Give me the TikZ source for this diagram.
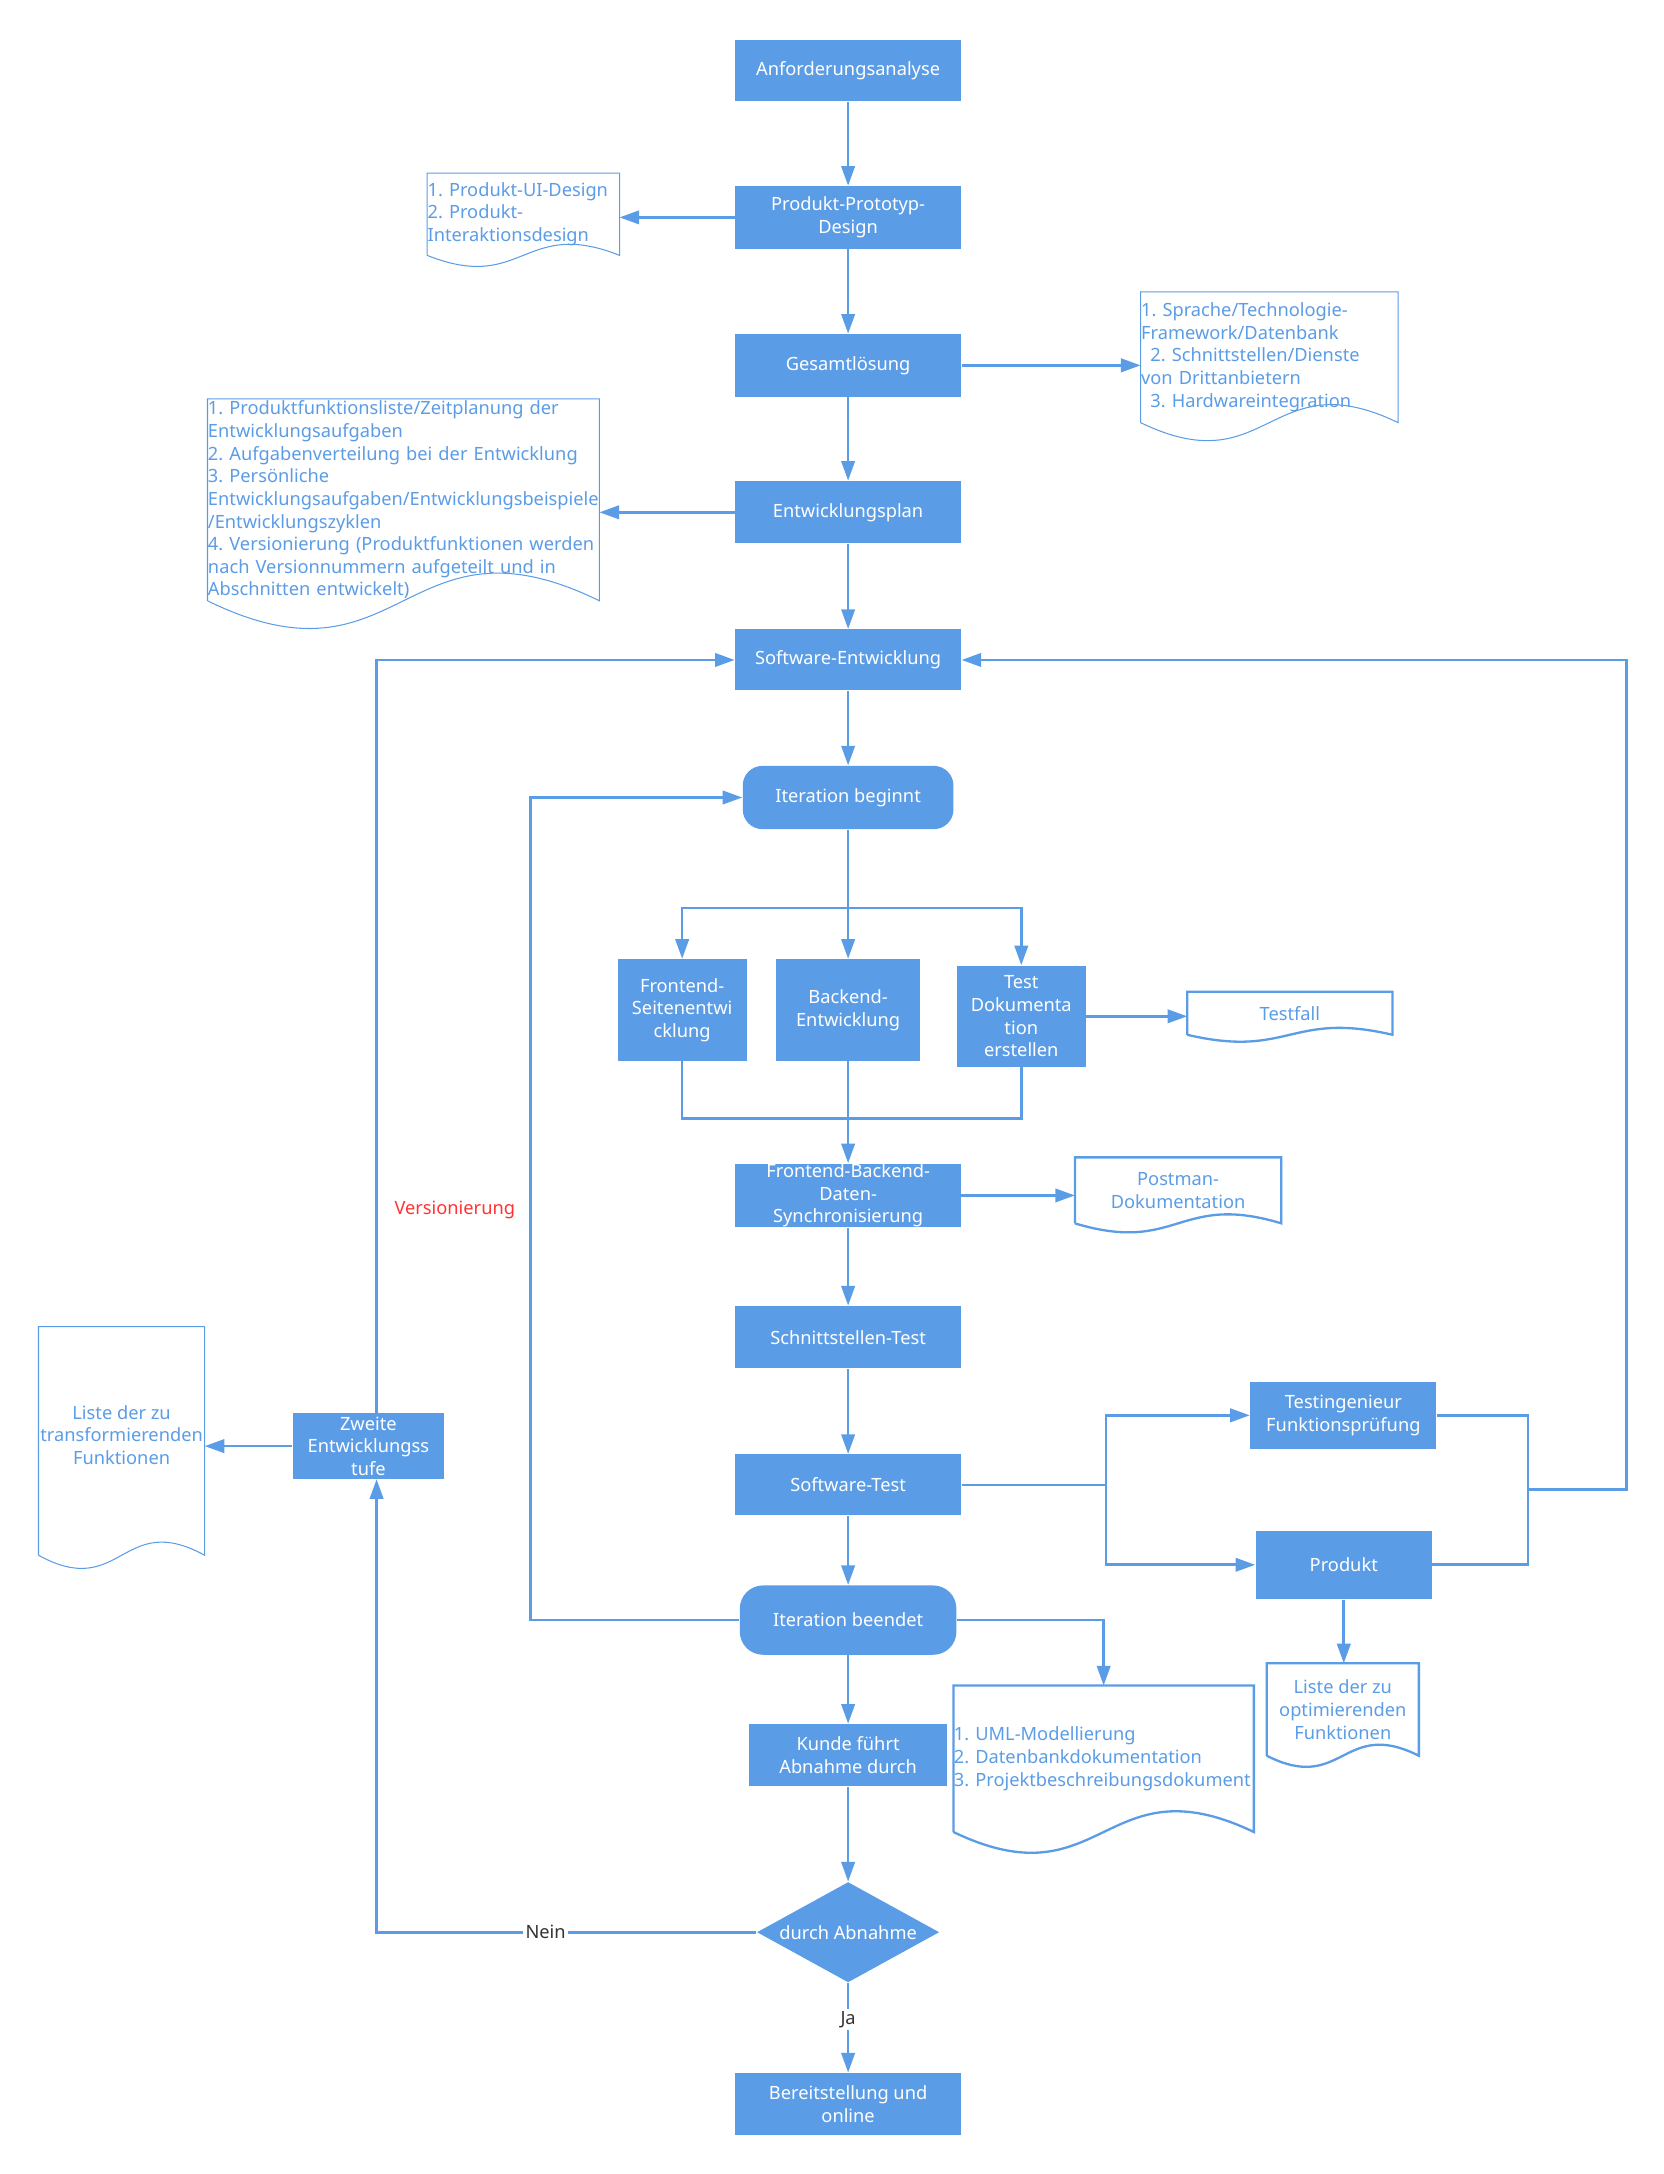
\documentclass[tikz,border=0pt]{standalone}
\usepackage{fontspec}
\setmainfont{Noto Sans}
\frenchspacing
\usetikzlibrary{arrows.meta,shapes.geometric,calc}
\definecolor{fc}{HTML}{5B9CE6}
\definecolor{tc}{HTML}{5B9CE6}
\definecolor{rc}{HTML}{FF3333}
\definecolor{lc}{HTML}{333333}
\newcommand\docout[3]{%
  \draw[#3] (#1.south west) -- (#1.north west) -- (#1.north east) -- (#1.south east)
    .. controls ($(#1.south)+(0,-#2*3.46)$) and ($(#1.south)+(0,#2*3.46)$) .. (#1.south west);}
\newcommand\mb[1]{\mbox{#1}}
\tikzset{
  every node/.style={font=\fontsize{7.9pt}{9.8pt}\selectfont},
  box/.style={rectangle, fill=fc, text=white, align=center, inner sep=0pt},
  term/.style={box, rounded corners=8.5pt},
  dec/.style={diamond, aspect=1.8, fill=fc, text=white, inner sep=0pt, align=center},
  sz/.style 2 args={minimum width=#1*0.6pt, minimum height=#2*0.6pt},
  doc/.style={rectangle, inner sep=0pt, text=tc},
  conn/.style={draw=fc, line width=1.15pt, -{Triangle[length=8.5pt,width=5.8pt]}},
  line/.style={draw=fc, line width=1.15pt},
  thindoc/.style={draw=fc, line width=0.45pt},
  thickdoc/.style={draw=fc, line width=1pt},
  lbl/.style={fill=white, text=lc, inner sep=1pt},
}
\begin{document}
\begin{tikzpicture}[x=0.6pt, y=-0.6pt]
\useasboundingbox (0,0) rectangle (1200,1568);

% main column
\node[box, sz={163}{44}] (A) at (611.7,51) {Anforderungsanalyse};
\node[box, sz={163}{45}] (B) at (611.7,156.8) {Produkt-Prototyp-\\Design};
\node[box, sz={163}{45}] (C) at (611.7,263.5) {Gesamtlösung};
\node[box, sz={163}{45}] (D) at (611.7,369.5) {Entwicklungsplan};
\node[box, sz={163}{44}] (E) at (611.7,476) {Software-Entwicklung};
\node[term, sz={152}{45.6}] (F) at (611.7,575.2) {Iteration beginnt};
\node[box, sz={93}{73.3}] (G1) at (492,728.5) {Frontend-\\Seitenentwi\\cklung};
\node[box, sz={103.8}{73.3}] (G2) at (611.7,728.5) {Backend-\\Entwicklung};
\node[box, sz={92.8}{73}] (G3) at (736.6,733) {Test\\Dokumenta\\tion\\erstellen};
\node[box, sz={162.6}{45}] (H) at (611.7,862.2) {Frontend-Backend-\\Daten-\\Synchronisierung};
\node[box, sz={163}{45}] (S) at (611.7,964.5) {Schnittstellen-Test};
\node[box, sz={163}{44}] (T) at (611.7,1071) {Software-Test};
\node[box, sz={134.3}{48.8}] (TI) at (968.9,1020.8) {Testingenieur\\Funktionsprüfung};
\node[box, sz={127.1}{49.4}] (P) at (969.2,1128.6) {Produkt};
\node[term, rounded corners=10pt, sz={156.2}{50}] (IE) at (611.7,1168.5) {Iteration beendet};
\node[box, sz={142.3}{44.9}] (K) at (611.7,1266) {Kunde führt\\Abnahme durch};
\node[dec, sz={131.5}{72.4}] (DA) at (611.7,1393.6) {durch Abnahme};
\node[box, sz={162.8}{44.9}] (BO) at (611.7,1517.6) {Bereitstellung und\\online};
\node[box, sz={109.4}{47.1}] (Z) at (265.7,1043) {Zweite\\Entwicklungss\\tufe};

% documents
\node[doc, sz={138.1}{58.7}, text width=82.86pt, align=left] (d1) at (377.45,154.5)
  {1. Produkt-UI-Design\\2. Produkt-\\Interaktionsdesign};
\node[doc, sz={185}{93.7}, text width=111pt, align=left] (d2) at (915.5,257.65)
  {\mb{1. Sprache/Technologie-}\\\mb{Framework/Datenbank}\\\mb{\hspace*{4pt}2. Schnittstellen/Dienste}\\\mb{von Drittanbietern}\\\mb{\hspace*{4pt}3. Hardwareintegration}};
\node[doc, sz={282}{145}, text width=169.2pt, align=left] (d3) at (291,360.5)
  {\mb{1. Produktfunktionsliste/Zeitplanung der}\\\mb{Entwicklungsaufgaben}\\\mb{2. Aufgabenverteilung bei der Entwicklung}\\\mb{3. Persönliche}\\\mb{Entwicklungsaufgaben/Entwicklungsbeispiele}\\\mb{/Entwicklungszyklen}\\\mb{4. Versionierung (Produktfunktionen werden}\\\mb{nach Versionnummern aufgeteilt und in}\\\mb{Abschnitten entwickelt)}};
\node[doc, sz={147.4}{30.4}, align=center] (d4) at (930.3,730.8) {Testfall};
\node[doc, sz={148.2}{46.9}, align=center] (d5) at (849.7,858.55) {Postman-\\Dokumentation};
\node[doc, sz={119.2}{164.2}, align=center, text depth=5.4pt] (d6) at (87.7,1039.3)
  {Liste der zu\\transformierenden\\Funktionen};
\node[doc, sz={109}{66}, align=center] (d7) at (968.5,1233) {Liste der zu\\optimierenden\\Funktionen};
\node[doc, sz={216}{105}, text width=129.6pt, align=left] (d8) at (796,1268.5)
  {\mb{1. UML-Modellierung}\\\mb{2. Datenbankdokumentation}\\\mb{3. Projektbeschreibungsdokument}};

\docout{d1}{8}{thindoc}
\docout{d2}{13}{thindoc}
\docout{d3}{20}{thindoc}
\docout{d4}{5}{thickdoc}
\docout{d5}{6.5}{thickdoc}
\docout{d6}{9.5}{thindoc}
\docout{d7}{8}{thickdoc}
\docout{d8}{15}{thickdoc}

% helper coordinates
\coordinate (sp) at (611.7,655);
\coordinate (mj) at (611.7,806.5);
\coordinate (tb) at (797.6,1071);
\coordinate (rj) at (1102,1074.5);
\coordinate (rr) at (1173.3,1074.5);
\coordinate (ll) at (382.5,1168.5);
\coordinate (zl) at (271.6,1043);

% connectors
\draw[conn] (A.south) -- (B.north);
\draw[conn] (B.west) -- (B.west -| d1.east);
\draw[conn] (B.south) -- (C.north);
\draw[conn] (C.east) -- (C.east -| d2.west);
\draw[conn] (C.south) -- (D.north);
\draw[conn] (D.west) -- (D.west -| d3.east);
\draw[conn] (D.south) -- (E.north);
\draw[conn] (E.south) -- (F.north);
\draw[line] (F.south) -- (sp);
\draw[conn] (sp) -| (G1.north);
\draw[conn] (sp) -| (G3.north);
\draw[conn] (sp) -- (G2.north);
\draw[conn] (G3.east) -- (G3.east -| d4.west);
\draw[line] (G1.south) |- (mj);
\draw[line] (G3.south) |- (mj);
\draw[conn] (G2.south) -- (H.north);
\draw[conn] (H.east) -- (H.east -| d5.west);
\draw[conn] (H.south) -- (S.north);
\draw[conn] (S.south) -- (T.north);
\draw[conn] (T.south) -- (IE.north);
\draw[line] (T.east) -- (tb);
\draw[conn] (tb) |- (TI.west);
\draw[conn] (tb) |- (P.west);
\draw[line] (TI.east) -| (rj);
\draw[line] (P.east) -| (rj);
\draw[conn] (rj) -- (rr) |- (E.east);
\draw[conn] (P.south) -- (P.south |- d7.north);
\draw[conn] (IE.west) -- (ll) |- (F.west);
\draw[conn] (IE.east) -| (d8.north);
\draw[conn] (IE.south) -- (K.north);
\draw[conn] (K.south) -- (DA.north);
\draw[conn] (DA.west) -- node[lbl, pos=0.555] {Nein} (DA.west -| zl) -- (Z.south -| zl);
\draw[conn] (Z.north -| zl) -- (E.west -| zl) -- (E.west);
\draw[conn] (Z.west) -- (Z.west -| d6.east);
\draw[conn] (DA.south) -- node[lbl, pos=0.41] {Ja} (BO.north);
\node[text=rc] (ver) at (328,872.6) {Versionierung};
\end{tikzpicture}
\end{document}
